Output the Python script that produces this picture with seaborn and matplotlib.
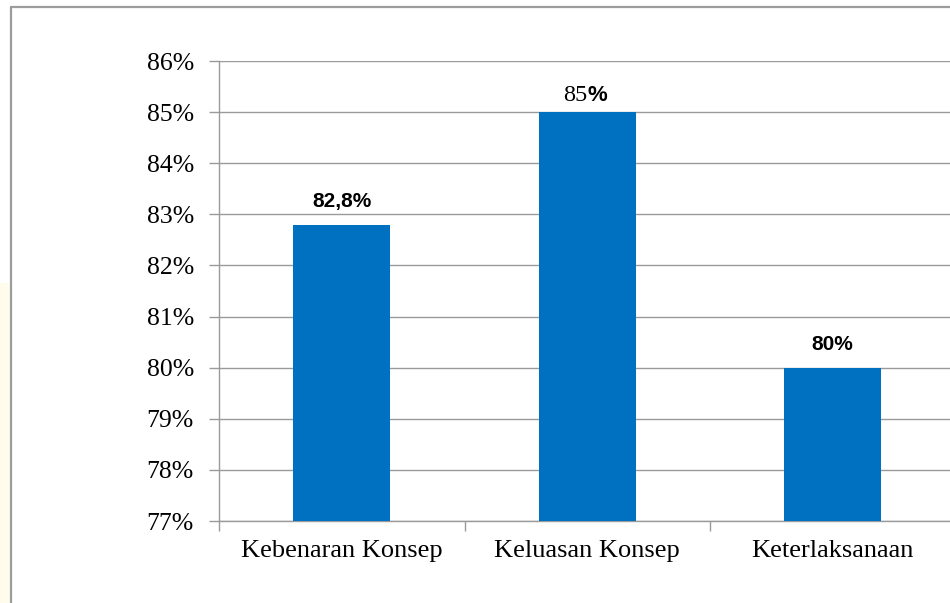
import matplotlib
matplotlib.use("Agg")
import matplotlib.pyplot as plt
from matplotlib.patches import Rectangle
from matplotlib.lines import Line2D
from matplotlib.ticker import FixedLocator, FuncFormatter
import seaborn as sns
import pandas as pd

# Data
categories = ["Kebenaran Konsep", "Keluasan Konsep", "Keterlaksanaan"]
scores = [82.8, 85.0, 80.0]
score_labels = ["82,8%", "85%", "80%"]
y_ticks = list(range(77, 87))

sns.set_theme(style="white")
plt.rcParams["font.family"] = ["Liberation Serif", "DejaVu Serif"]

W, H = 950, 603
fig = plt.figure(figsize=(W / 100, H / 100), dpi=100)
fig.patch.set_facecolor("white")

# Pale strip and frame along the page edge
fig.add_artist(Rectangle((0, 0), 9 / W, (H - 283) / H, transform=fig.transFigure,
                         facecolor="#FFFCEB", edgecolor="none", zorder=0))
fig.add_artist(Line2D([10.5 / W, 10.5 / W], [0, 1 - 7 / H], transform=fig.transFigure,
                      color="#9C9C9C", lw=1.6))
fig.add_artist(Line2D([10.5 / W, 1], [1 - 7 / H, 1 - 7 / H], transform=fig.transFigure,
                      color="#9C9C9C", lw=1.6))

left, right, top, bottom = 219, 955.5, 61, 521
ax = fig.add_axes([left / W, 1 - bottom / H, (right - left) / W, (bottom - top) / H])
ax.set_facecolor("none")

df = pd.DataFrame({"category": categories, "score": scores})
sns.barplot(data=df, x="category", y="score", color="#0070C0", saturation=1,
            width=0.395, ax=ax, zorder=3, edgecolor="none")

ax.set_xlim(-0.5, 2.5)
ax.set_ylim(77, 86)
ax.set_xlabel("")
ax.set_ylabel("")

grid_color = "#9A9A9A"
ax.yaxis.set_major_locator(FixedLocator(y_ticks))
ax.yaxis.set_major_formatter(FuncFormatter(lambda v, p: f"{v:.0f}%"))
ax.yaxis.grid(True, color=grid_color, lw=1.0, zorder=0)
ax.xaxis.grid(False)
ax.tick_params(axis="y", which="major", direction="out", length=7, width=1.0,
               color=grid_color, labelsize=18.5, pad=11, left=True)
ax.tick_params(axis="x", which="major", length=0, labelsize=19, pad=14)
ax.xaxis.set_minor_locator(FixedLocator([-0.5, 0.5, 1.5, 2.5]))
ax.tick_params(axis="x", which="minor", direction="out", length=7, width=1.0,
               color=grid_color, bottom=True)
for lab in ax.get_xticklabels() + ax.get_yticklabels():
    lab.set_color("black")

for side in ["top", "right"]:
    ax.spines[side].set_visible(False)
for side in ["left", "bottom"]:
    ax.spines[side].set_color(grid_color)
    ax.spines[side].set_linewidth(1.0)

# Value labels above bars
bold_sans = ["Liberation Sans", "DejaVu Sans"]
for i, (v, txt) in enumerate(zip(scores, score_labels)):
    if txt == "85%":
        ax.annotate("85", (i, v), xytext=(0, 8), textcoords="offset points",
                    ha="right", va="baseline", fontsize=17.5, color="black",
                    family=["Liberation Serif", "DejaVu Serif"], zorder=5)
        ax.annotate("%", (i, v), xytext=(0, 8), textcoords="offset points",
                    ha="left", va="baseline", fontsize=16, fontweight="bold",
                    color="black", family=bold_sans, zorder=5)
    else:
        ax.annotate(txt, (i, v), xytext=(0, 12.5), textcoords="offset points",
                    ha="center", va="baseline", fontsize=15, fontweight="bold",
                    color="black", family=bold_sans, zorder=5)

fig.savefig("out.png", dpi=100)
